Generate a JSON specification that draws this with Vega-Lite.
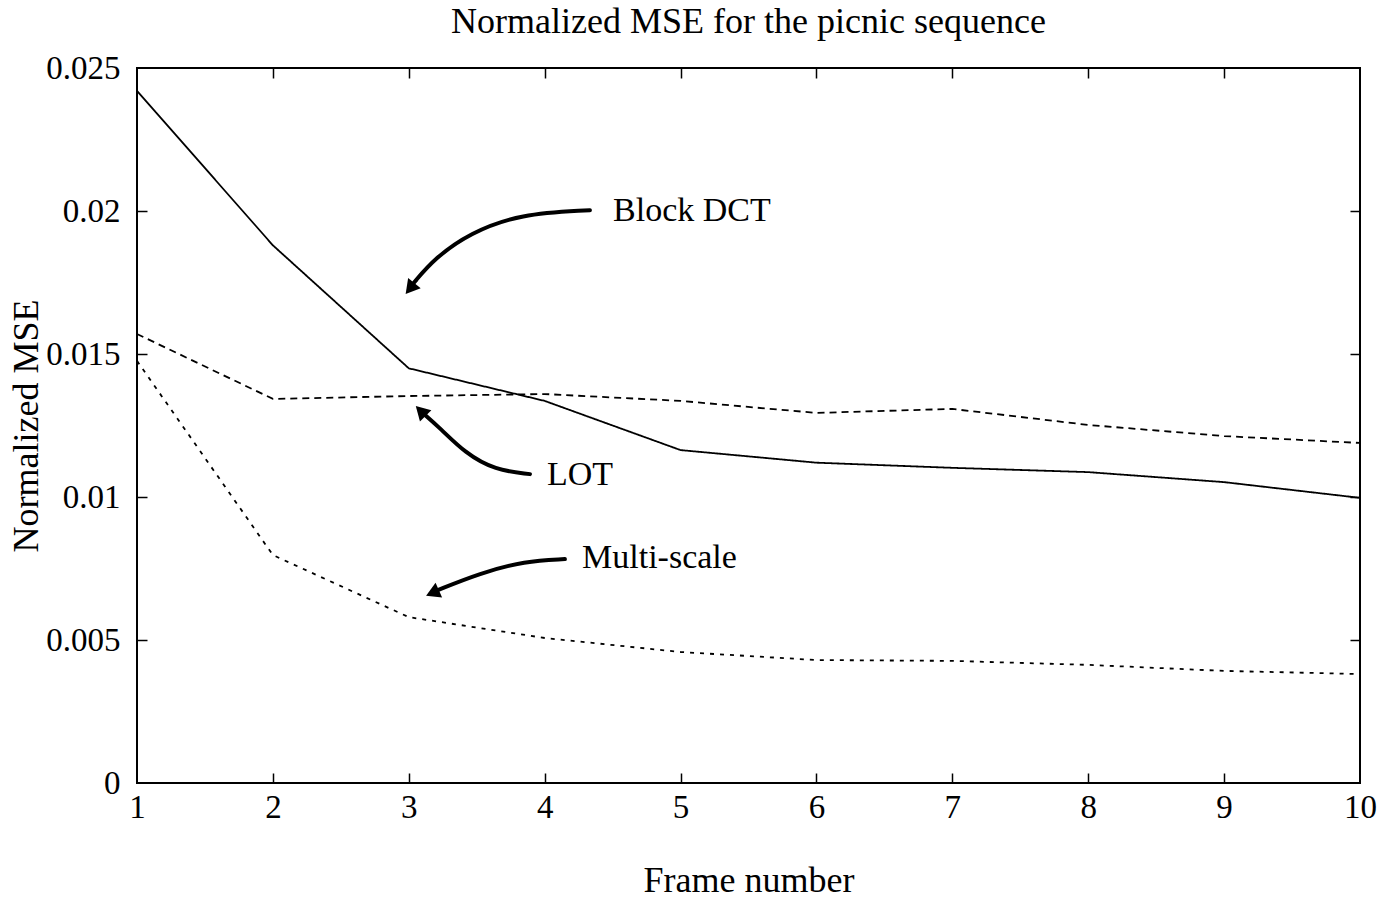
{
  "$schema": "https://vega.github.io/schema/vega-lite/v6.json",
  "autosize": "none",
  "width": 1223,
  "height": 715,
  "padding": {"left": 137, "top": 68, "right": 40, "bottom": 116},
  "background": "white",
  "config": {
    "font": "Liberation Serif",
    "view": {"stroke": "black", "strokeWidth": 2},
    "axis": {"domain": false, "grid": false, "labelFont": "Liberation Serif", "titleFont": "Liberation Serif", "labelColor": "black", "titleColor": "black", "tickColor": "black", "tickWidth": 1.5, "titleFontWeight": "normal", "labelFontSize": 33, "titleFontSize": 36}
  },
  "title": {"text": "Normalized MSE for the picnic sequence", "font": "Liberation Serif", "fontSize": 36, "fontWeight": "normal", "color": "black", "offset": 11},
  "resolve": {"axis": {"x": "independent", "y": "independent"}},
  "datasets": {
    "series": [
      {"frame": 1, "mse": 0.0242, "method": "Block DCT"},
      {"frame": 2, "mse": 0.0188, "method": "Block DCT"},
      {"frame": 3, "mse": 0.0145, "method": "Block DCT"},
      {"frame": 4, "mse": 0.01336, "method": "Block DCT"},
      {"frame": 5, "mse": 0.01164, "method": "Block DCT"},
      {"frame": 6, "mse": 0.0112, "method": "Block DCT"},
      {"frame": 7, "mse": 0.01102, "method": "Block DCT"},
      {"frame": 8, "mse": 0.01087, "method": "Block DCT"},
      {"frame": 9, "mse": 0.01052, "method": "Block DCT"},
      {"frame": 10, "mse": 0.00997, "method": "Block DCT"},
      {"frame": 1, "mse": 0.0157, "method": "LOT"},
      {"frame": 2, "mse": 0.01343, "method": "LOT"},
      {"frame": 3, "mse": 0.01353, "method": "LOT"},
      {"frame": 4, "mse": 0.0136, "method": "LOT"},
      {"frame": 5, "mse": 0.01336, "method": "LOT"},
      {"frame": 6, "mse": 0.01294, "method": "LOT"},
      {"frame": 7, "mse": 0.01308, "method": "LOT"},
      {"frame": 8, "mse": 0.01252, "method": "LOT"},
      {"frame": 9, "mse": 0.01213, "method": "LOT"},
      {"frame": 10, "mse": 0.01189, "method": "LOT"},
      {"frame": 1, "mse": 0.01476, "method": "Multi-scale"},
      {"frame": 2, "mse": 0.00797, "method": "Multi-scale"},
      {"frame": 3, "mse": 0.0058, "method": "Multi-scale"},
      {"frame": 4, "mse": 0.00507, "method": "Multi-scale"},
      {"frame": 5, "mse": 0.00458, "method": "Multi-scale"},
      {"frame": 6, "mse": 0.0043, "method": "Multi-scale"},
      {"frame": 7, "mse": 0.00427, "method": "Multi-scale"},
      {"frame": 8, "mse": 0.00413, "method": "Multi-scale"},
      {"frame": 9, "mse": 0.00392, "method": "Multi-scale"},
      {"frame": 10, "mse": 0.00381, "method": "Multi-scale"}
    ],
    "arrows": [
      {"arrow": "Block DCT", "frame": 4.333, "mse": 0.02003},
      {"arrow": "Block DCT", "frame": 3.818, "mse": 0.0199},
      {"arrow": "Block DCT", "frame": 3.45, "mse": 0.01923},
      {"arrow": "Block DCT", "frame": 3.193, "mse": 0.01836},
      {"arrow": "Block DCT", "frame": 3.03, "mse": 0.01745},
      {"arrow": "LOT", "frame": 3.892, "mse": 0.0108},
      {"arrow": "LOT", "frame": 3.634, "mse": 0.01094},
      {"arrow": "LOT", "frame": 3.414, "mse": 0.01154},
      {"arrow": "LOT", "frame": 3.23, "mse": 0.01241},
      {"arrow": "LOT", "frame": 3.1, "mse": 0.01295},
      {"arrow": "Multi-scale", "frame": 4.149, "mse": 0.00783},
      {"arrow": "Multi-scale", "frame": 3.855, "mse": 0.00776},
      {"arrow": "Multi-scale", "frame": 3.524, "mse": 0.00734},
      {"arrow": "Multi-scale", "frame": 3.2, "mse": 0.00672}
    ],
    "heads": [
      {"arrow": "Block DCT", "frame": 3.02, "mse": 0.01735},
      {"arrow": "LOT", "frame": 3.1, "mse": 0.01295},
      {"arrow": "Multi-scale", "frame": 3.19, "mse": 0.00668}
    ],
    "labels": [
      {"label": "Block DCT", "frame": 4.503, "mse": 0.02},
      {"label": "LOT", "frame": 4.017, "mse": 0.01077},
      {"label": "Multi-scale", "frame": 4.275, "mse": 0.00787}
    ]
  },
  "layer": [
    {
      "data": {"name": "series"},
      "mark": {"type": "line", "color": "black", "strokeWidth": 1.8},
      "encoding": {
        "x": {"field": "frame", "type": "quantitative", "scale": {"domain": [1, 10], "nice": false, "zero": false},
              "axis": {"orient": "bottom", "title": "Frame number", "values": [1,2,3,4,5,6,7,8,9,10], "format": "d", "ticks": false, "labelPadding": 8, "labelBaseline": "top", "titlePadding": 39, "labelFlush": false}},
        "y": {"field": "mse", "type": "quantitative", "scale": {"domain": [0, 0.025], "nice": false},
              "axis": {"orient": "left", "title": "Normalized MSE", "values": [0, 0.005, 0.01, 0.015, 0.02, 0.025], "format": ".3~f", "ticks": false, "labelPadding": 17, "titlePadding": 0, "labelFlush": false}},
        "strokeDash": {"field": "method", "type": "nominal", "legend": null,
                       "scale": {"domain": ["Block DCT", "LOT", "Multi-scale"], "range": [[1, 0], [7, 5], [4, 6]]}}
      }
    },
    {
      "data": {"name": "series"},
      "mark": {"type": "point", "opacity": 0},
      "encoding": {
        "x": {"field": "frame", "type": "quantitative",
              "axis": {"orient": "top", "offset": -715, "title": null, "labels": false, "values": [2,3,4,5,6,7,8,9], "tickSize": 10}},
        "y": {"field": "mse", "type": "quantitative",
              "axis": {"orient": "right", "offset": -1223, "title": null, "labels": false, "values": [0.005, 0.01, 0.015, 0.02], "tickSize": 10}}
      }
    },
    {
      "data": {"name": "series"},
      "mark": {"type": "point", "opacity": 0},
      "encoding": {
        "x": {"field": "frame", "type": "quantitative",
              "axis": {"orient": "bottom", "offset": -715, "title": null, "labels": false, "values": [2,3,4,5,6,7,8,9], "tickSize": 10}},
        "y": {"field": "mse", "type": "quantitative",
              "axis": {"orient": "left", "offset": -1223, "title": null, "labels": false, "values": [0.005, 0.01, 0.015, 0.02], "tickSize": 10}}
      }
    },
    {
      "data": {"name": "arrows"},
      "mark": {"type": "line", "color": "black", "strokeWidth": 4, "interpolate": "basis", "strokeCap": "round"},
      "encoding": {
        "x": {"field": "frame", "type": "quantitative", "axis": null},
        "y": {"field": "mse", "type": "quantitative", "axis": null},
        "detail": {"field": "arrow"}
      }
    },
    {
      "data": {"name": "heads"},
      "transform": [{"filter": "datum.arrow == 'Block DCT'"}],
      "mark": {"type": "point", "shape": "triangle", "filled": true, "color": "black", "opacity": 1, "size": 260, "angle": 219},
      "encoding": {"x": {"field": "frame", "type": "quantitative", "axis": null}, "y": {"field": "mse", "type": "quantitative", "axis": null}}
    },
    {
      "data": {"name": "heads"},
      "transform": [{"filter": "datum.arrow == 'LOT'"}],
      "mark": {"type": "point", "shape": "triangle", "filled": true, "color": "black", "opacity": 1, "size": 260, "angle": 315},
      "encoding": {"x": {"field": "frame", "type": "quantitative", "axis": null}, "y": {"field": "mse", "type": "quantitative", "axis": null}}
    },
    {
      "data": {"name": "heads"},
      "transform": [{"filter": "datum.arrow == 'Multi-scale'"}],
      "mark": {"type": "point", "shape": "triangle", "filled": true, "color": "black", "opacity": 1, "size": 260, "angle": 246},
      "encoding": {"x": {"field": "frame", "type": "quantitative", "axis": null}, "y": {"field": "mse", "type": "quantitative", "axis": null}}
    },
    {
      "data": {"name": "labels"},
      "mark": {"type": "text", "align": "left", "baseline": "middle", "font": "Liberation Serif", "fontSize": 34, "color": "black"},
      "encoding": {
        "x": {"field": "frame", "type": "quantitative", "axis": null},
        "y": {"field": "mse", "type": "quantitative", "axis": null},
        "text": {"field": "label"}
      }
    }
  ]
}
